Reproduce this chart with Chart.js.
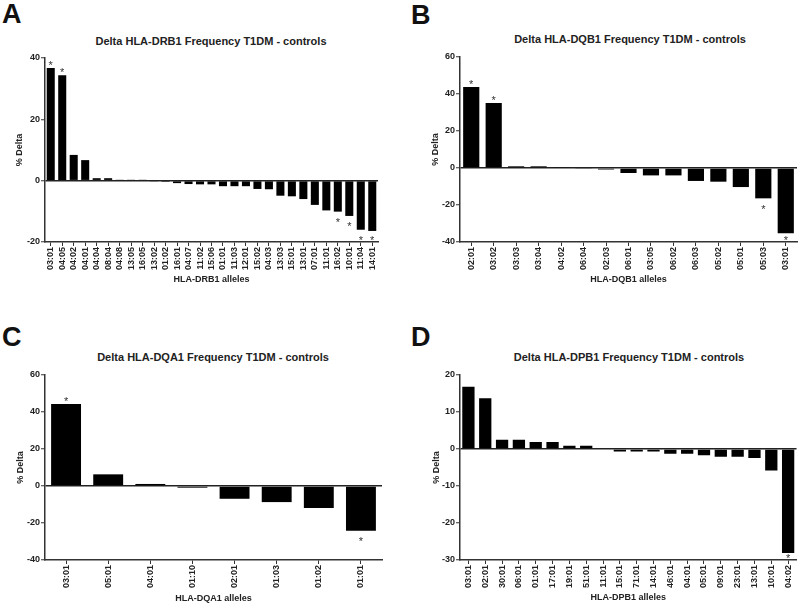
<!DOCTYPE html>
<html>
<head>
<meta charset="utf-8">
<script src="https://cdn.jsdelivr.net/npm/chart.js@4.4.0/dist/chart.umd.min.js"></script>
<style>
  body { margin: 0; background: #fff; }
  #page { position: relative; width: 800px; height: 604px; font-family: "Liberation Sans", Arial, sans-serif; color: #111; }
  .panel { position: absolute; width: 400px; height: 302px; }
  .letter { position: absolute; font-size: 27px; font-weight: bold; line-height: 27px; }
  .title { position: absolute; font-size: 11px; font-weight: bold; line-height: 13px; transform: translateX(-50%); white-space: nowrap; color: #222; }
</style>
</head>
<body>
<div id="page">
  <div class="letter" style="left:2px; top:0.5px;">A</div>
  <div class="letter" style="left:411px; top:1.5px;">B</div>
  <div class="letter" style="left:2px; top:323.5px;">C</div>
  <div class="letter" style="left:411px; top:323.5px;">D</div>

  <div class="title" style="left:211px; top:34.7px;">Delta HLA-DRB1 Frequency T1DM - controls</div>
  <div class="title" style="left:630px; top:33.2px;">Delta HLA-DQB1 Frequency T1DM - controls</div>
  <div class="title" style="left:213px; top:350.7px;">Delta HLA-DQA1 Frequency T1DM - controls</div>
  <div class="title" style="left:629px; top:350.7px;">Delta HLA-DPB1 Frequency T1DM - controls</div>

  <div class="panel" style="left:0; top:0;"><canvas id="drb1" width="400" height="302"></canvas></div>
  <div class="panel" style="left:400px; top:0;"><canvas id="dqb1" width="400" height="302"></canvas></div>
  <div class="panel" style="left:0; top:302px;"><canvas id="dqa1" width="400" height="302"></canvas></div>
  <div class="panel" style="left:400px; top:302px;"><canvas id="dpb1" width="400" height="302"></canvas></div>
</div>
<script>
// HLA-DRB1
const drb1Alleles = ['03:01', '04:05', '04:02', '04:01', '04:04', '08:04', '04:08', '13:05', '16:05', '13:02',
    '01:02', '16:01', '04:07', '11:02', '15:06', '01:01', '11:03', '12:01', '15:02', '04:03',
    '13:03', '15:01', '13:01', '07:01', '11:01', '16:02', '10:01', '11:04', '14:01'];
const drb1Delta = [36.7, 34.4, 8.4, 6.7, 0.8, 0.8, 0.3, 0.3, 0.3, -0.3,
    -0.4, -0.8, -1.1, -1.2, -1.2, -1.8, -1.8, -1.8, -2.7, -2.8,
    -4.9, -5.1, -6.0, -7.9, -9.7, -10.1, -11.5, -16.0, -16.4];
const drb1Stars = [0, 1, 25, 26, 27, 28];
const drb1Ticks = [-20, 0, 20, 40];

// HLA-DQB1
const dqb1Alleles = ['02:01', '03:02', '03:03', '03:04', '04:02', '06:04', '02:03', '06:01', '03:05', '06:02',
    '06:03', '05:02', '05:01', '05:03', '03:01'];
const dqb1Delta = [43.8, 35.1, 0.9, 0.9, 0.3, -0.5, -0.8, -2.7, -4.0, -4.0, -7.0, -7.4, -10.3, -16.4, -35.3];
const dqb1Stars = [0, 1, 13, 14];
const dqb1Ticks = [-40, -20, 0, 20, 40, 60];

// HLA-DQA1
const dqa1Alleles = ['03:01', '05:01', '04:01', '01:10', '02:01', '01:03', '01:02', '01:01'];
const dqa1Delta = [44.3, 6.3, 1.1, -0.9, -6.9, -8.7, -11.9, -24.2];
const dqa1Stars = [0, 7];
const dqa1Ticks = [-40, -20, 0, 20, 40, 60];

// HLA-DPB1
const dpb1Alleles = ['03:01', '02:01', '30:01', '06:01', '01:01', '17:01', '19:01', '51:01', '11:01', '15:01',
    '71:01', '14:01', '46:01', '04:01', '05:01', '09:01', '23:01', '13:01', '10:01', '04:02'];
const dpb1Delta = [16.8, 13.7, 2.5, 2.5, 1.9, 1.9, 0.9, 0.9, 0.2, -0.7,
    -0.7, -0.7, -1.3, -1.3, -1.7, -2.1, -2.1, -2.4, -5.8, -28.1];
const dpb1Stars = [19];
const dpb1Ticks = [-30, -20, -10, 0, 10, 20];

Chart.defaults.font.family = '"Liberation Sans", Arial, sans-serif';
Chart.defaults.color = '#222';

const AXIS = '#333';

// draws the significance asterisks above / below the bars
const starPlugin = {
    id: 'stars',
    afterDatasetsDraw (chart, args, opts) {
        const ctx = chart.ctx;
        const meta = chart.getDatasetMeta(0);
        const values = chart.data.datasets[0].data;
        const size = 11;
        ctx.save();
        ctx.font = size + 'px "Liberation Sans", Arial, sans-serif';
        ctx.fillStyle = '#333';
        ctx.textAlign = 'center';
        ctx.textBaseline = 'alphabetic';
        (opts.indices || []).forEach(function (i) {
            const bar = meta.data[i];
            let cy;
            if (values[i] >= 0) {
                cy = bar.y - 5.5;
            } else {
                cy = Math.min(bar.y + 8, chart.chartArea.bottom - 4.5);
            }
            ctx.fillText('*', bar.x, cy + 0.57 * size);
        });
        ctx.restore();
    }
};

function drawPanel (canvasId, alleles, delta, stars, ticks, xTitle, frame) {
    const W = 400, H = 302;
    const ctx = document.getElementById(canvasId).getContext('2d');
    new Chart(ctx, {
        type: 'bar',
        data: {
            labels: alleles,
            datasets: [{
                data: delta,
                backgroundColor: '#000',
                borderWidth: 0,
                barPercentage: frame.bar,
                categoryPercentage: 1
            }]
        },
        options: {
            responsive: false,
            animation: false,
            layout: {
                padding: { top: frame.top, right: W - frame.right, left: 0, bottom: 0 }
            },
            plugins: {
                legend: { display: false },
                tooltip: { enabled: false },
                stars: { indices: stars }
            },
            scales: {
                x: {
                    offset: true,
                    grid: {
                        display: true,
                        drawOnChartArea: false,
                        offset: false,
                        tickLength: 4,
                        tickColor: AXIS,
                        tickWidth: 1
                    },
                    border: { display: true, color: AXIS, width: 1.5 },
                    ticks: {
                        autoSkip: false,
                        minRotation: 90,
                        maxRotation: 90,
                        padding: 1,
                        font: { size: 9, weight: 'bold' },
                        color: '#222'
                    },
                    title: {
                        display: true,
                        text: xTitle,
                        font: { size: 9, weight: 'bold' },
                        color: '#222',
                        padding: { top: 0, bottom: Math.max(0, H - frame.xTitleY - 5.4) }
                    },
                    afterFit (scale) { scale.height = H - frame.bottom; }
                },
                y: {
                    min: ticks[0],
                    max: ticks[ticks.length - 1],
                    grid: {
                        color: (c) => (c.tick && c.tick.value === 0) ? '#222' : 'rgba(0,0,0,0)',
                        lineWidth: 1.5,
                        tickLength: 4,
                        tickColor: AXIS,
                        tickWidth: 1
                    },
                    border: { display: true, color: AXIS, width: 1.5 },
                    ticks: {
                        stepSize: ticks[1] - ticks[0],
                        padding: 1,
                        font: { size: 9, weight: 'bold' },
                        color: '#222'
                    },
                    title: {
                        display: true,
                        text: '% Delta',
                        font: { size: 9, weight: 'bold' },
                        color: '#222',
                        padding: { top: frame.yTitleX - 5.4, bottom: 0 }
                    },
                    afterFit (scale) { scale.width = frame.left; }
                }
            }
        },
        plugins: [starPlugin]
    });
}

drawPanel('drb1', drb1Alleles, drb1Delta, drb1Stars, drb1Ticks, 'HLA-DRB1 alleles',
    { left: 45, right: 378, top: 58, bottom: 242, yTitleX: 20, xTitleY: 279.5, bar: 0.70 });
drawPanel('dqb1', dqb1Alleles, dqb1Delta, dqb1Stars, dqb1Ticks, 'HLA-DQB1 alleles',
    { left: 60, right: 397, top: 57, bottom: 242, yTitleX: 36, xTitleY: 280, bar: 0.72 });
drawPanel('dqa1', dqa1Alleles, dqa1Delta, dqa1Stars, dqa1Ticks, 'HLA-DQA1 alleles',
    { left: 45, right: 382, top: 73, bottom: 258, yTitleX: 21, xTitleY: 297, bar: 0.71 });
drawPanel('dpb1', dpb1Alleles, dpb1Delta, dpb1Stars, dpb1Ticks, 'HLA-DPB1 alleles',
    { left: 60, right: 397, top: 73, bottom: 258, yTitleX: 37, xTitleY: 296, bar: 0.73 });
</script>
</body>
</html>
